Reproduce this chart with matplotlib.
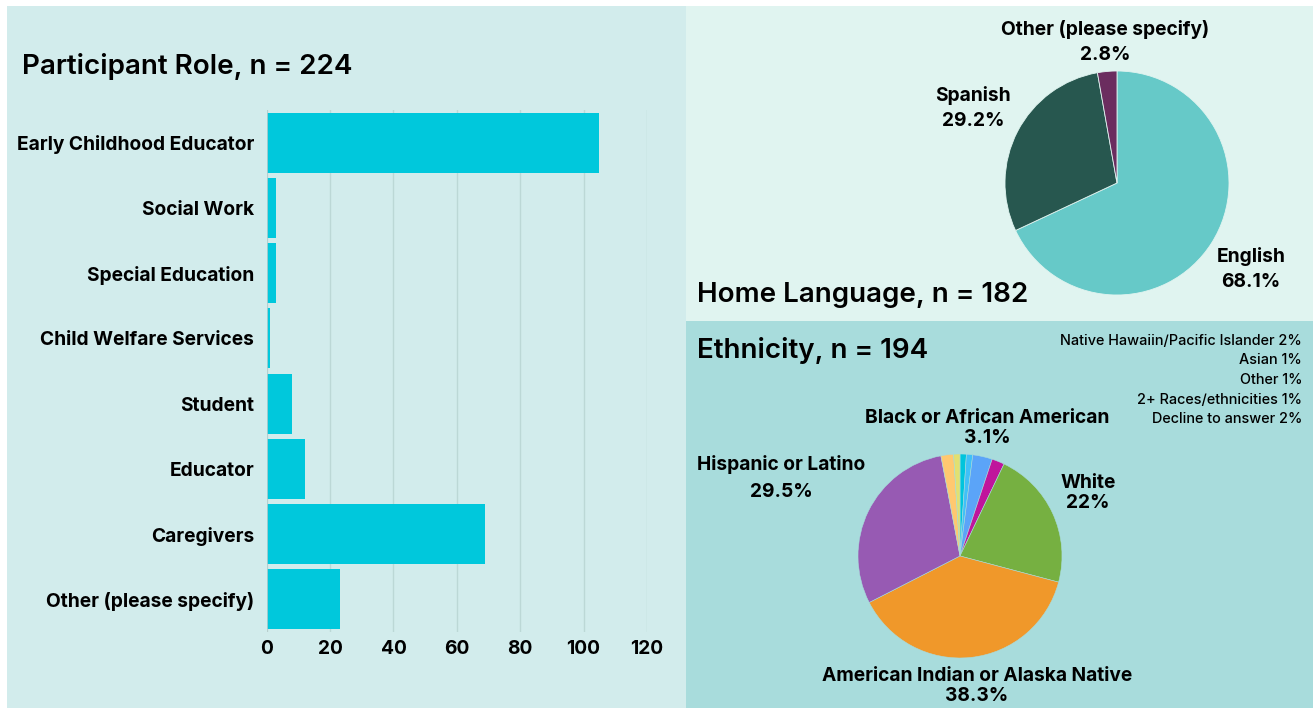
import matplotlib.pyplot as plt
from matplotlib.patches import Rectangle

# participant role
roles = ['Early Childhood Educator', 'Social Work', 'Special Education',
         'Child Welfare Services', 'Student', 'Educator', 'Caregivers',
         'Other (please specify)']
role_counts = [105, 3, 3, 1, 8, 12, 69, 23]

# home language
lang_labels = ['English', 'Spanish', 'Other (please specify)']
lang_pct = [68.1, 29.2, 2.8]
lang_colors = ['#66c9c8', '#27574f', '#6b2d5f']

# ethnicity (clockwise from top)
eth_labels = ['Asian', 'Other', 'Black or African American',
              'Native Hawaiin/Pacific Islander', 'White',
              'American Indian or Alaska Native', 'Hispanic or Latino',
              'Decline to answer', '2+ Races/ethnicities']
eth_pct = [1, 1, 3.1, 2, 22, 38.3, 29.5, 2, 1]
eth_colors = ['#00c4dc', '#40c0f8', '#5ba4f8', '#c0149c', '#76b041',
              '#f0982a', '#975ab3', '#ffc870', '#e2e070']

small_notes = ['Native Hawaiin/Pacific Islander 2%', 'Asian 1%', 'Other 1%',
               '2+ Races/ethnicities 1%', 'Decline to answer 2%']

plt.rcParams['font.family'] = ['Inter', 'DejaVu Sans']

W, H = 1315, 708
fig = plt.figure(figsize=(W / 100, H / 100), dpi=100)
fig.patch.set_facecolor('white')

def px(x0, y0, x1, y1):
    # pixel box (top-left origin) -> figure fraction rect
    return [x0 / W, 1 - y1 / H, (x1 - x0) / W, (y1 - y0) / H]

for box, col in [((7, 6, 686, 708), '#d2ecec'),
                 ((686, 6, 1313, 321), '#e0f4f0'),
                 ((686, 321, 1313, 708), '#a8dcdc')]:
    r = px(*box)
    fig.patches.append(Rectangle((r[0], r[1]), r[2], r[3], transform=fig.transFigure,
                                 facecolor=col, edgecolor='none', zorder=-5))

LAB = 13.8

# ---- bar chart
ax = fig.add_axes(px(266.7, 110, 647, 632))
ax.set_facecolor('none')
ax.barh(range(len(roles)), role_counts, height=0.92, color='#00c8dc', zorder=3)
ax.set_ylim(len(roles) - 0.5, -0.5)
ax.set_xlim(0, 120)
ax.set_xticks(range(0, 121, 20))
ax.set_yticks(range(len(roles)))
ax.set_yticklabels(roles, fontsize=LAB, fontweight='bold')
ax.tick_params(axis='y', length=0, pad=9)
ax.tick_params(axis='x', length=0, pad=6, labelsize=LAB)
for lab in ax.get_xticklabels():
    lab.set_fontweight('bold')
ax.grid(axis='x', color='#bcd8d6', linewidth=1, zorder=0)
for s in ax.spines.values():
    s.set_visible(False)
ax.axvline(0, color='#b8cccc', linewidth=1.2, zorder=4)

fig.text(22 / W, 1 - 67 / H, 'Participant Role, n = 224', fontsize=20,
         fontweight='semibold', va='center', ha='left')

# ---- home language pie
r1 = 112
ax2 = fig.add_axes(px(1117 - r1, 183 - r1, 1117 + r1, 183 + r1))
ax2.pie(lang_pct, colors=lang_colors, startangle=90, counterclock=False,
        wedgeprops=dict(edgecolor='#e0f4f0', linewidth=0.6))
ax2.set_xlim(-1, 1)
ax2.set_ylim(-1, 1)
ax2.set_aspect('auto')
ax2.axis('off')
for txt, (x, y) in zip(['English\n68.1%', 'Spanish\n29.2%', 'Other (please specify)\n2.8%'],
                       [(1251, 269), (973, 108), (1105, 42)]):
    fig.text(x / W, 1 - y / H, txt, ha='center', va='center', fontsize=LAB,
             fontweight='bold', linespacing=1.45)

fig.text(697 / W, 1 - 295 / H, 'Home Language, n = 182', fontsize=20,
         fontweight='semibold', va='center', ha='left')

# ---- ethnicity pie
r2 = 102
ax3 = fig.add_axes(px(960 - r2, 556 - r2, 960 + r2, 556 + r2))
ax3.pie(eth_pct, colors=eth_colors, startangle=90, counterclock=False,
        wedgeprops=dict(edgecolor='#a8dcdc', linewidth=0.4))
ax3.set_xlim(-1, 1)
ax3.set_ylim(-1, 1)
ax3.set_aspect('auto')
ax3.axis('off')
for txt, (x, y) in zip(['Black or African American\n3.1%', 'White\n22%',
                        'Hispanic or Latino\n29.5%',
                        'American Indian or Alaska Native\n38.3%'],
                       [(987, 428), (1088, 493), (781, 478), (977, 686)]):
    fig.text(x / W, 1 - y / H, txt, ha='center', va='center', fontsize=LAB,
             fontweight='bold', linespacing=1.6 if 'Latino' in txt else 1.15)

fig.text(697 / W, 1 - 351 / H, 'Ethnicity, n = 194', fontsize=20,
         fontweight='semibold', va='center', ha='left')

for i, note in enumerate(small_notes):
    fig.text(1302 / W, 1 - (341 + i * 19.5) / H, note, ha='right', va='center',
             fontsize=10.4, fontweight='medium')

fig.savefig('out.png', dpi=100)
